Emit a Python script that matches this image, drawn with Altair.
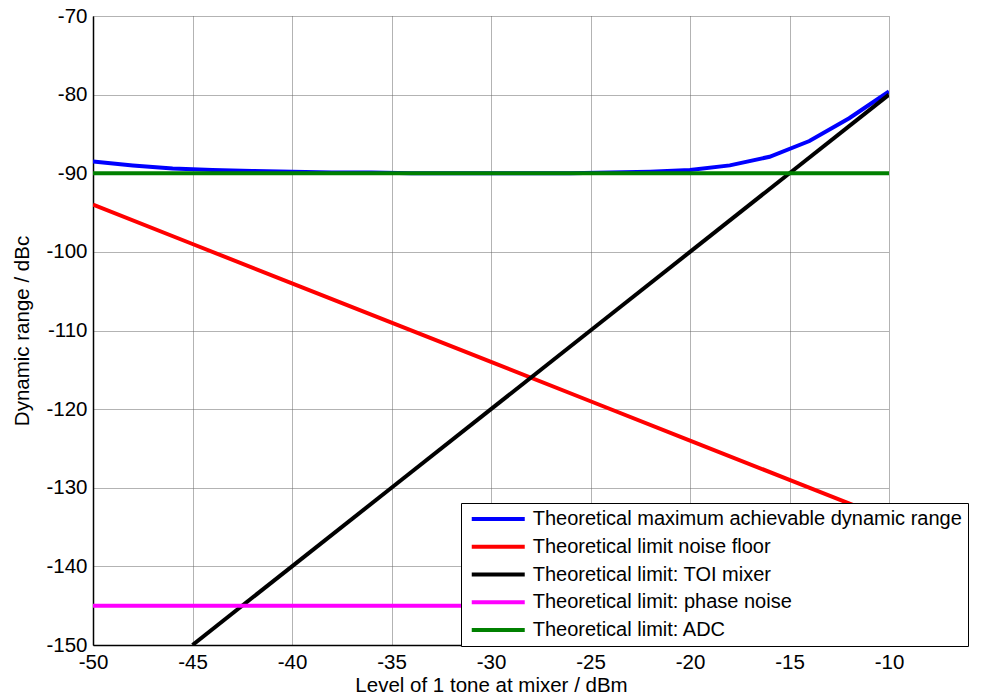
import altair as alt
import pandas as pd

series_names = [
    "Theoretical maximum achievable dynamic range",
    "Theoretical limit noise floor",
    "Theoretical limit: TOI mixer",
    "Theoretical limit: phase noise",
    "Theoretical limit: ADC",
]
series_colors = ["#0000ff", "#ff0000", "#000000", "#ff00ff", "#008000"]

max_x = [-50, -48, -46, -44, -42, -40, -38, -36, -34, -32, -30,
         -28, -26, -24, -22, -20, -18, -16, -14, -12, -10]
max_y = [-88.5, -89.0, -89.4, -89.6, -89.7, -89.8, -89.9, -89.9, -90.0, -90.0, -90.0,
         -90.0, -90.0, -89.9, -89.8, -89.6, -89.0, -87.9, -85.9, -83.0, -79.6]

noise_x = [-50, -45, -40, -35, -30, -25, -20, -15, -10]
noise_y = [-94, -99, -104, -109, -114, -119, -124, -129, -134]

toi_x = [-45, -40, -35, -30, -25, -20, -15, -10]
toi_y = [-150, -140, -130, -120, -110, -100, -90, -80]

phase_x = [-50, -10]
phase_y = [-145, -145]

adc_x = [-50, -10]
adc_y = [-90, -90]

x_ticks = [-50, -45, -40, -35, -30, -25, -20, -15, -10]
y_ticks = [-150, -140, -130, -120, -110, -100, -90, -80, -70]

FONT = "Liberation Sans"
FS = 20.5

series_data = [
    (series_names[0], max_x, max_y),
    (series_names[1], noise_x, noise_y),
    (series_names[2], toi_x, toi_y),
    (series_names[3], phase_x, phase_y),
    (series_names[4], adc_x, adc_y),
]

color_scale = alt.Scale(domain=series_names, range=series_colors)
legend = alt.Legend(
    title=None,
    orient="none",
    legendX=368,
    legendY=487,
    symbolType="M-4,0H4",
    symbolSize=175.6,
    symbolStrokeWidth=4,
    symbolOffset=21.25,
    labelOffset=24.5,
    labelFont=FONT,
    labelFontSize=20,
    labelColor="black",
    labelLimit=700,
    padding=6,
    rowPadding=7.75,
    strokeColor="black",
    fillColor="white",
)

x_axis = alt.Axis(
    values=x_ticks,
    title="Level of 1 tone at mixer / dBm",
    labelPadding=7,
    labelFlush=False,
    labelExpr="toString(datum.value)",
    titleBaseline="alphabetic",
    titleY=46,
)
y_axis = alt.Axis(
    values=y_ticks,
    title="Dynamic range / dBc",
    labelPadding=6,
    labelFlush=False,
    labelExpr="toString(datum.value)",
    titleBaseline="alphabetic",
    titleX=-64.3,
)

layers = []
for name, xs, ys in series_data:
    df = pd.DataFrame({"x": xs, "y": ys, "series": [name] * len(xs)})
    layers.append(
        alt.Chart(df)
        .mark_line(strokeWidth=4, clip=True)
        .encode(
            x=alt.X("x:Q", scale=alt.Scale(domain=[-50, -10], nice=False, zero=False), axis=x_axis),
            y=alt.Y("y:Q", scale=alt.Scale(domain=[-150, -70], nice=False, zero=False), axis=y_axis),
            color=alt.Color("series:N", scale=color_scale, legend=legend),
        )
    )

chart = (
    alt.layer(*layers)
    .properties(
        width=796,
        height=629,
        autosize="none",
        padding={"left": 85, "top": 8, "right": 88, "bottom": 47},
    )
    .configure_view(stroke="transparent")
    .configure_axis(
        grid=True,
        gridColor="#666666",
        gridDash=[1, 1],
        gridWidth=1,
        domainColor="black",
        domainWidth=1.5,
        ticks=False,
        labelFont=FONT,
        labelFontSize=FS,
        labelColor="black",
        titleFont=FONT,
        titleFontSize=FS,
        titleFontWeight="normal",
        titleColor="black",
    )
)

chart.save("out.html", embed_options={"renderer": "svg", "actions": False})
